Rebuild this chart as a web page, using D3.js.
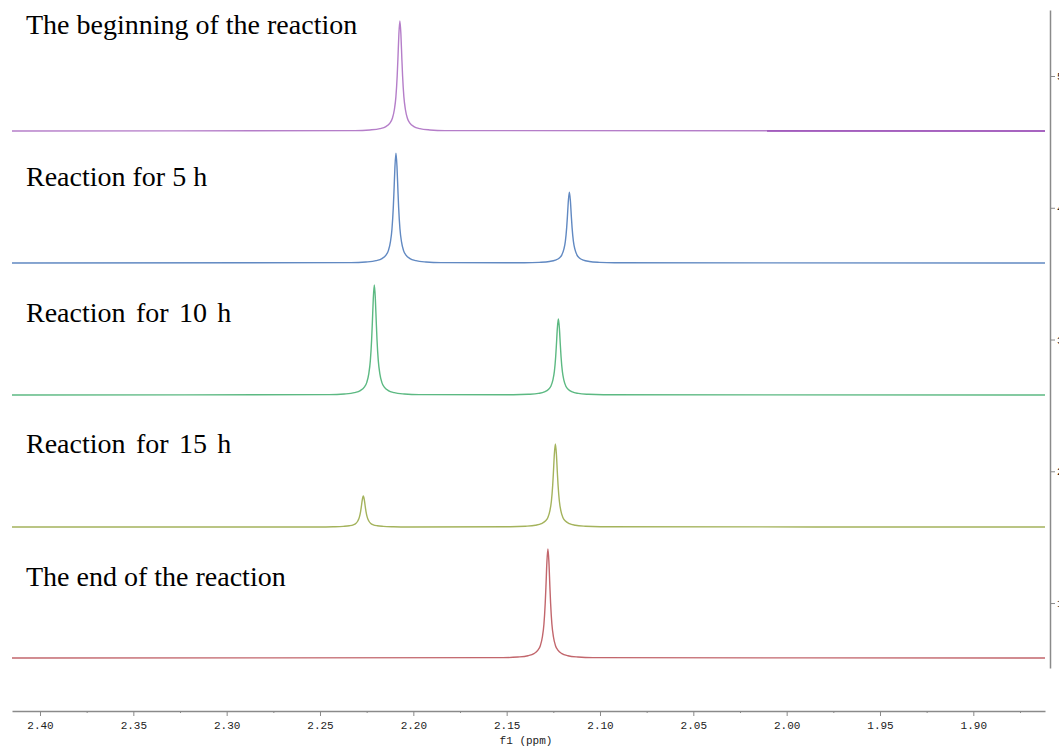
<!DOCTYPE html>
<html lang="en">
<head>
<meta charset="utf-8">
<style type="text/css">
body { margin: 0; background: #fff; }
.label { font-family: "Liberation Serif", "Times New Roman", serif; font-size: 28px; fill: #000; white-space: pre; }
.axis text { font-family: "Liberation Mono", monospace; font-size: 11px; fill: #222; }
.axis path, .axis line { stroke: #8a8a8a; }
.spec { fill: none; stroke-width: 1.4px; }
</style>
</head>
<body>
<svg width="1059" height="747"></svg>
<script src="https://cdn.jsdelivr.net/npm/d3@7"></script>
<script type="text/javascript">
// spectra, top to bottom
var names = ["The beginning of the reaction", "Reaction for 5 h", "Reaction  for  10  h", "Reaction  for  15  h", "The end of the reaction"];
var colors = ["#b57ec9", "#6189c2", "#5cb982", "#a4b35c", "#c2666c"];
var baselines = [4.583, 3.581, 2.579, 1.577, 0.583];
// peak positions (ppm) and heights (axis units)
var peakPpm = [[2.2072], [2.2093, 2.1164], [2.2209, 2.1223], [2.2268, 2.1239], [2.1279]];
var peakHeight = [[0.835], [0.833, 0.537], [0.835, 0.577], [0.235, 0.63], [0.827]];
// peak line shape: distance from centre (ppm) and relative level
var shapeOffset = [0.0241, 0.0161, 0.0107, 0.0075, 0.00536, 0.00402, 0.00295, 0.00214, 0.00145, 0.00107, 0.00054, 0];
var shapeLevel  = [0.003, 0.009, 0.021, 0.04, 0.072, 0.115, 0.195, 0.31, 0.5, 0.65, 0.88, 1];
var xTicks = [2.40, 2.35, 2.30, 2.25, 2.20, 2.15, 2.10, 2.05, 2.00, 1.95, 1.90];
var xMinor = [2.375, 2.325, 2.275, 2.225, 2.175, 2.125, 2.075, 2.025, 1.975, 1.925, 1.875];
var yTicks = [1, 2, 3, 4, 5];
var darkFrom = 2.0105; // purple trace turns darker from here

var svg = d3.select("svg");

var x = d3.scaleLinear().domain([2.415, 1.8616]).range([12, 1045]);
var y = d3.scaleLinear().domain([0.507, 5.501]).range([668, 10]);

function tracePoints(i) {
    var pts = [[x.domain()[0], baselines[i]]];
    peakPpm[i].forEach(function (c, j) {
        var h = peakHeight[i][j];
        shapeOffset.forEach(function (o, k) { pts.push([c + o, baselines[i] + h * shapeLevel[k]]); });
        for (var k = shapeOffset.length - 2; k >= 0; k--) {
            pts.push([c - shapeOffset[k], baselines[i] + h * shapeLevel[k]]);
        }
    });
    pts.push([x.domain()[1], baselines[i]]);
    return pts;
}

var line = d3.line()
    .x(function (d) { return x(d[0]); })
    .y(function (d) { return y(d[1]); })
    .curve(d3.curveMonotoneX);

names.forEach(function (n, i) {
    svg.append("path")
        .attr("class", "spec")
        .attr("d", line(tracePoints(i)))
        .attr("stroke", colors[i]);
});

svg.append("path")
    .attr("class", "spec")
    .attr("d", line([[darkFrom, baselines[0]], [x.domain()[1], baselines[0]]]))
    .attr("stroke", "#9c52b8");

var labelY = [34, 186, 322, 453, 586];
svg.selectAll(".label")
    .data(names)
    .enter()
    .append("text")
    .attr("class", "label")
    .attr("x", 26)
    .attr("y", function (d, i) { return labelY[i]; })
    .style("word-spacing", function (d) { return d.indexOf("  ") >= 0 ? "-1.8px" : null; })
    .text(function (d) { return d; });

// bottom axis
var gx = svg.append("g")
    .attr("class", "axis")
    .attr("transform", "translate(0,711)")
    .call(d3.axisBottom(x).tickValues(xTicks).tickFormat(d3.format(".2f")).tickSize(5).tickSizeOuter(0).tickPadding(5));
gx.select(".domain").attr("stroke-width", 1.5);

svg.append("g")
    .attr("class", "axis")
    .attr("transform", "translate(0,711)")
    .call(d3.axisBottom(x).tickValues(xMinor).tickFormat("").tickSize(2).tickSizeOuter(0))
    .select(".domain").remove();

svg.append("text")
    .attr("x", 526)
    .attr("y", 744)
    .attr("text-anchor", "middle")
    .style("font-family", "Liberation Mono, monospace")
    .style("font-size", "11px")
    .attr("fill", "#222")
    .text("f1 (ppm)");

// right axis (its labels sit at the window edge, as in the original)
var gy = svg.append("g")
    .attr("class", "axis")
    .attr("transform", "translate(1050,0)")
    .call(d3.axisRight(y).tickValues(yTicks).tickFormat(d3.format("d")).tickSize(5).tickSizeOuter(0).tickPadding(2));
gy.select(".domain").attr("stroke-width", 1.5);
</script>
</body>
</html>
